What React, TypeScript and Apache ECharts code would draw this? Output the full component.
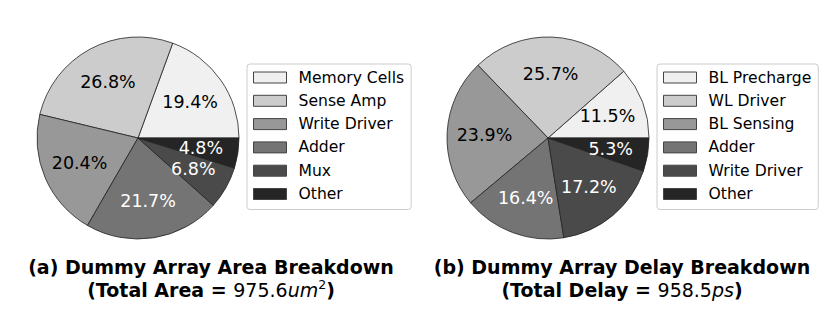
import React, { useEffect, useRef } from "react";
import * as echarts from "echarts";

const areaCategories = ["Memory Cells", "Sense Amp", "Write Driver", "Adder", "Mux", "Other"];
const areaValues = [19.4, 26.8, 20.4, 21.7, 6.8, 4.8];
const delayCategories = ["BL Precharge", "WL Driver", "BL Sensing", "Adder", "Write Driver", "Other"];
const delayValues = [11.5, 25.7, 23.9, 16.4, 17.2, 5.3];
const areaTitle = "(a) Dummy Array Area Breakdown";
const delayTitle = "(b) Dummy Array Delay Breakdown";
const areaTotal = "975.6";
const delayTotal = "958.5";

const sliceColors = ["#f0f0f0", "#cccccc", "#989898", "#747474", "#4a4a4a", "#252525"];
const labelColors = ["#000", "#000", "#000", "#fff", "#fff", "#fff"];
const FONT = "DejaVu Sans";

function pieSeries(values: number[], names: string[], cx: number) {
  const R = 101;
  const base = {
    type: "pie",
    center: [cx, 138],
    startAngle: 0,
    clockwise: false,
    avoidLabelOverlap: false,
    labelLine: { show: false },
    emphasis: { disabled: true },
  };
  return [
    {
      ...base,
      radius: [0, R],
      label: { show: false },
      itemStyle: { borderColor: "#222", borderWidth: 0.8 },
      data: values.map((v, i) => ({ name: names[i], value: v, itemStyle: { color: sliceColors[i] } })),
    },
    {
      ...base,
      radius: [R * 0.2, R],
      silent: true,
      legendHoverLink: false,
      itemStyle: { color: "rgba(0,0,0,0)", borderWidth: 0 },
      label: {
        show: true,
        position: "inside",
        fontFamily: FONT,
        fontSize: 17.5,
        formatter: (p: any) => p.value.toFixed(1) + "%",
      },
      data: values.map((v, i) => ({
        name: names[i],
        value: v,
        label: { color: labelColors[i] },
      })),
    },
  ];
}

function legendFor(names: string[], left: number) {
  return {
    orient: "vertical",
    left,
    top: 64,
    itemWidth: 33,
    itemHeight: 11,
    itemGap: 0.3,
    padding: [2, 7, 4, 6],
    borderColor: "#cccccc",
    borderWidth: 1,
    borderRadius: 3,
    backgroundColor: "#ffffff",
    selectedMode: false,
    icon: "rect",
    itemStyle: { borderColor: "#444", borderWidth: 1 },
    textStyle: { fontFamily: FONT, fontSize: 15.6, color: "#000", lineHeight: 23, padding: [0, 0, 0, 7] },
    data: names.map((n, i) => ({ name: n, itemStyle: { color: sliceColors[i], borderColor: "#444", borderWidth: 1 } })),
  };
}

const rich = {
  b: { fontFamily: FONT, fontWeight: "bold", fontSize: 19, lineHeight: 23, color: "#000" },
  n: { fontFamily: FONT, fontSize: 19, lineHeight: 23, color: "#000" },
  i: { fontFamily: FONT, fontStyle: "italic", fontSize: 19, lineHeight: 23, color: "#000" },
  s: { fontFamily: FONT, fontSize: 12.5, lineHeight: 14, verticalAlign: "top", color: "#000" },
};

function caption(x: number, line1: string, line2: string) {
  return {
    type: "text",
    x,
    y: 255,
    style: {
      text: `{b|${line1}}\n${line2}`,
      rich,
      align: "center",
      verticalAlign: "top",
      fill: "#000",
    },
  };
}

export default function App() {
  const ref = useRef<HTMLDivElement>(null);
  useEffect(() => {
    document.body.style.margin = "0";
    const chart = echarts.init(ref.current!, undefined, { renderer: "svg" });
    chart.setOption({
      animation: false,
      backgroundColor: "#ffffff",
      legend: [legendFor(areaCategories, 247), legendFor(delayCategories, 657)],
      series: [...pieSeries(areaValues, areaCategories, 138), ...pieSeries(delayValues, delayCategories, 548)],
      graphic: [
        caption(211, areaTitle, `{b|(Total Area = }{n|${areaTotal}}{i|um}{s|2}{b|)}`),
        caption(622, delayTitle, `{b|(Total Delay = }{n|${delayTotal}}{i|ps}{b|)}`),
      ],
    });
    return () => chart.dispose();
  }, []);
  return <div ref={ref} style={{ width: 831, height: 309 }} />;
}
